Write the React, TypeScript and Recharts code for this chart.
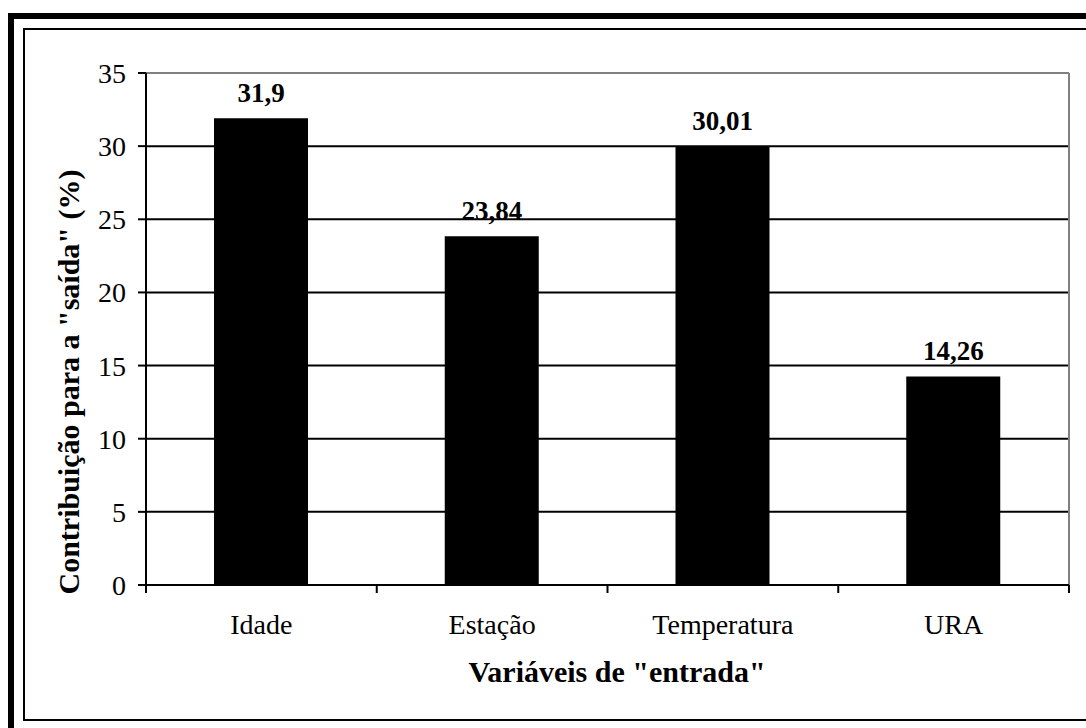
import React from 'react';
import { BarChart, Bar, XAxis, YAxis, CartesianGrid, ReferenceLine, LabelList } from 'recharts';

const categories = ['Idade', 'Estação', 'Temperatura', 'URA'];
const values = [31.9, 23.84, 30.01, 14.26];
const yTicks = [0, 5, 10, 15, 20, 25, 30, 35];
const yTitle = 'Contribuição para a "saída" (%)';
const xTitle = 'Variáveis de "entrada"';

const data = categories.map((c, i) => ({ name: c, value: values[i] }));

const FONT = '"Liberation Serif", "Times New Roman", serif';
const TICK_MARGIN = 29;

const fmt = (v: any) => String(v).replace('.', ',');

const CategoryTick = (props: any) => {
  const { x, y, payload, index, width } = props;
  const band = width / categories.length;
  const axisY = y - TICK_MARGIN;
  return (
    <g>
      <line x1={x - band / 2} y1={axisY} x2={x - band / 2} y2={axisY + 8} stroke="#000" strokeWidth={2} />
      {index === categories.length - 1 && (
        <line x1={x + band / 2} y1={axisY} x2={x + band / 2} y2={axisY + 8} stroke="#000" strokeWidth={2} />
      )}
      <text x={x} y={y} dy="0.71em" textAnchor="middle" fill="#000" fontSize={28} fontFamily={FONT}>
        {payload.value}
      </text>
    </g>
  );
};

export default function App() {
  return (
    <div style={{ position: 'absolute', left: 0, top: 0, width: 1086, height: 728, overflow: 'hidden', background: '#fff' }}>
      <div style={{ position: 'absolute', left: 8, top: 13, width: 1300, height: 900, border: '6px solid #000', boxSizing: 'border-box' }} />
      <div style={{ position: 'absolute', left: 23, top: 28, width: 1300, height: 693, border: '2px solid #000', boxSizing: 'border-box' }} />
      <div style={{ position: 'absolute', left: 0, top: 0 }}>
        <BarChart
          width={1086}
          height={728}
          data={data}
          margin={{ top: 73, right: 17, left: 46, bottom: 83 }}
          style={{ fontFamily: FONT }}
        >
          <CartesianGrid vertical={false} stroke="#000" strokeWidth={2} />
          <CartesianGrid
            horizontal={false}
            stroke="#808080"
            strokeWidth={2}
            verticalCoordinatesGenerator={({ offset }: any) => [offset.left + offset.width]}
          />
          <ReferenceLine y={35} stroke="#808080" strokeWidth={2} />
          <XAxis
            dataKey="name"
            height={60}
            axisLine={{ stroke: '#000', strokeWidth: 2 }}
            tickLine={false}
            tickSize={0}
            tickMargin={TICK_MARGIN}
            interval={0}
            tick={<CategoryTick />}
            label={(p: any) => (
              <text x={617} y={682} textAnchor="middle" fill="#000" fontSize={30} fontWeight="bold" fontFamily={FONT}>
                {xTitle}
              </text>
            )}
          />
          <YAxis
            width={100}
            domain={[0, 35]}
            ticks={yTicks}
            interval={0}
            axisLine={{ stroke: '#000', strokeWidth: 2 }}
            tickLine={{ stroke: '#000', strokeWidth: 2 }}
            tickSize={8}
            tickMargin={12}
            tick={{ fill: '#000', fontSize: 28, fontFamily: FONT }}
            label={(p: any) => (
              <text
                x={79}
                y={382}
                transform="rotate(-90, 79, 382)"
                textAnchor="middle"
                fill="#000"
                fontSize={30}
                fontWeight="bold"
                fontFamily={FONT}
              >
                {yTitle}
              </text>
            )}
          />
          <Bar dataKey="value" fill="#000" barSize={94} isAnimationActive={false}>
            <LabelList
              dataKey="value"
              position="top"
              offset={16}
              formatter={fmt}
              fill="#000"
              fontSize={27}
              fontWeight="bold"
              fontFamily={FONT}
            />
          </Bar>
        </BarChart>
      </div>
    </div>
  );
}
